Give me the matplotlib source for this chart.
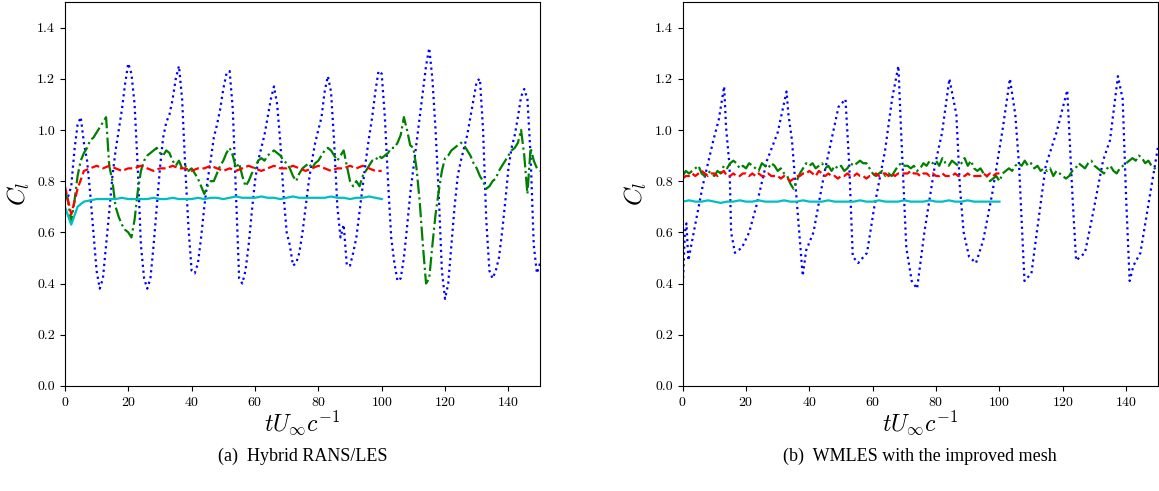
import numpy as np
import matplotlib
matplotlib.use("Agg")
import matplotlib.pyplot as plt

plt.rcParams["font.family"] = "serif"
plt.rcParams["font.serif"] = ["cmr10", "DejaVu Serif"]
plt.rcParams["mathtext.fontset"] = "cm"
plt.rcParams["axes.formatter.use_mathtext"] = True

# ----------------------------------------------------------------------
# (a) Hybrid RANS/LES
# ----------------------------------------------------------------------
a_blue = [
    0.76, 0.74, 0.78, 0.92, 1.02, 1.05, 0.95, 0.88, 0.75, 0.60,
    0.45, 0.38, 0.42, 0.55, 0.68, 0.82, 0.92, 1.00, 1.08, 1.18,
    1.26, 1.22, 1.10, 0.85, 0.55, 0.42, 0.38, 0.42, 0.55, 0.70,
    0.85, 0.97, 1.03, 1.06, 1.12, 1.20, 1.25, 1.12, 0.85, 0.62,
    0.45, 0.44, 0.48, 0.58, 0.70, 0.80, 0.88, 0.97, 1.02, 1.08,
    1.16, 1.22, 1.23, 1.08, 0.75, 0.42, 0.40, 0.45, 0.55, 0.68,
    0.80, 0.88, 0.93, 0.98, 1.05, 1.12, 1.17, 1.10, 0.95, 0.75,
    0.60, 0.55, 0.47, 0.48, 0.52, 0.60, 0.70, 0.80, 0.88, 0.95,
    1.00, 1.05, 1.15, 1.21, 1.15, 0.95, 0.70, 0.58, 0.63, 0.47,
    0.47, 0.52, 0.58, 0.68, 0.78, 0.88, 0.97, 1.05, 1.15, 1.23,
    1.22, 1.05, 0.80, 0.58, 0.48, 0.41, 0.42, 0.50, 0.62, 0.75,
    0.85, 0.95, 1.05, 1.15, 1.25, 1.32, 1.20, 1.00, 0.75, 0.45,
    0.34, 0.40, 0.55, 0.70, 0.82, 0.88, 0.93, 0.98, 1.05, 1.12,
    1.19, 1.20, 1.00, 0.65, 0.45, 0.42, 0.45, 0.50, 0.60, 0.72,
    0.85, 0.93, 0.98, 1.05, 1.13, 1.16, 1.12, 0.90, 0.55, 0.44,
    0.48,
]
a_green = [
    0.76, 0.72, 0.64, 0.72, 0.82, 0.88, 0.91, 0.93, 0.96, 0.97,
    0.99, 1.01, 1.03, 1.05, 0.86, 0.80, 0.70, 0.66, 0.63, 0.61,
    0.60, 0.58, 0.65, 0.76, 0.84, 0.88, 0.90, 0.91, 0.92, 0.93,
    0.91, 0.90, 0.92, 0.91, 0.88, 0.86, 0.88, 0.85, 0.86, 0.84,
    0.85, 0.83, 0.81, 0.78, 0.75, 0.78, 0.80, 0.80, 0.83, 0.86,
    0.88, 0.91, 0.93, 0.90, 0.85, 0.87, 0.82, 0.78, 0.80, 0.83,
    0.85, 0.88, 0.89, 0.88, 0.90, 0.91, 0.92, 0.91, 0.90, 0.88,
    0.87, 0.85, 0.82, 0.80, 0.83, 0.85, 0.86, 0.87, 0.85, 0.87,
    0.88, 0.90, 0.92, 0.93, 0.92, 0.90, 0.88, 0.90, 0.92, 0.86,
    0.80, 0.78, 0.80, 0.78, 0.82, 0.84, 0.86, 0.88, 0.88, 0.90,
    0.89, 0.90, 0.91, 0.93, 0.93, 0.95, 0.98, 1.05, 1.00, 0.94,
    0.93, 0.85, 0.72, 0.55, 0.40, 0.42, 0.55, 0.67, 0.76, 0.84,
    0.89, 0.90, 0.92, 0.93, 0.94, 0.95, 0.94, 0.92, 0.90, 0.87,
    0.85, 0.82, 0.80, 0.77, 0.78, 0.80, 0.81, 0.84, 0.86, 0.88,
    0.90, 0.92, 0.93, 0.95, 1.00, 0.90, 0.75, 0.93, 0.88, 0.85,
    0.84,
]
a_red = [
    0.78, 0.67, 0.77, 0.84, 0.85, 0.86, 0.85, 0.86, 0.85, 0.84,
    0.85, 0.85, 0.86, 0.85, 0.84, 0.85, 0.85, 0.86, 0.85, 0.85,
    0.84, 0.85, 0.85, 0.86, 0.85, 0.84, 0.85, 0.84, 0.85, 0.86,
    0.85, 0.84, 0.85, 0.86, 0.85, 0.85, 0.86, 0.85, 0.84, 0.85,
    0.86, 0.85, 0.84, 0.85, 0.85, 0.86, 0.85, 0.86, 0.85, 0.84,
    0.84,
]
a_cyan = [
    0.70, 0.63, 0.70, 0.72, 0.725, 0.73, 0.73, 0.73, 0.73, 0.735,
    0.73, 0.73, 0.73, 0.73, 0.735, 0.73, 0.73, 0.735, 0.73, 0.73,
    0.73, 0.735, 0.73, 0.735, 0.735, 0.73, 0.735, 0.74, 0.735, 0.735,
    0.735, 0.74, 0.735, 0.735, 0.73, 0.735, 0.74, 0.735, 0.735, 0.735,
    0.735, 0.735, 0.74, 0.735, 0.735, 0.73, 0.735, 0.735, 0.74, 0.735,
    0.73,
]

# ----------------------------------------------------------------------
# (b) WMLES with the improved mesh
# ----------------------------------------------------------------------
b_blue_t = [
    0, 0.7, 1.2, 1.8, 3.5, 6.3, 9.7, 11.4, 13.1, 13.7, 14.8, 15.3, 16.5,
    18.7, 21, 23.2, 26.6, 30, 32.8, 33.4, 34.5, 36.8, 37.9, 39, 41.3,
    44.7, 49.2, 51.4, 52.6, 53.7, 55.4, 58.2, 60.5, 63.9, 66.1, 68.1,
    68.9, 70.6, 72.3, 74, 76.3, 79.6, 81.9, 84.2, 86.4, 87.5, 88.7,
    90.4, 92.6, 94.9, 97.7, 101.1, 103.3, 105, 106.2, 107.9, 110.1,
    111.8, 114.6, 118, 121.4, 123.1, 124.2, 127, 129.3, 132.7, 134.9,
    137.4, 138.9, 140, 141.1, 142.3, 144.5, 147.3, 150,
]
b_blue = [
    0.375, 0.60, 0.635, 0.49, 0.60, 0.78, 0.96, 1.04, 1.17, 1.01, 0.86,
    0.60, 0.52, 0.54, 0.60, 0.70, 0.88, 0.99, 1.15, 1.06, 0.96, 0.60,
    0.43, 0.53, 0.60, 0.83, 1.09, 1.12, 0.86, 0.505, 0.48, 0.52, 0.70,
    0.92, 1.12, 1.25, 1.01, 0.54, 0.41, 0.38, 0.60, 0.86, 0.99, 1.20,
    1.06, 0.78, 0.60, 0.505, 0.48, 0.57, 0.75, 1.01, 1.20, 1.06, 0.86,
    0.41, 0.44, 0.60, 0.86, 0.99, 1.155, 0.73, 0.49, 0.52, 0.66, 0.88,
    0.96, 1.21, 1.12, 0.73, 0.41, 0.47, 0.52, 0.73, 0.93,
]
b_green = [
    0.82, 0.84, 0.83, 0.84, 0.85, 0.86, 0.83, 0.82, 0.84, 0.83,
    0.82, 0.84, 0.83, 0.86, 0.85, 0.87, 0.88, 0.87, 0.85, 0.86,
    0.85, 0.87, 0.86, 0.85, 0.84, 0.87, 0.86, 0.85, 0.87, 0.86,
    0.84, 0.85, 0.83, 0.82, 0.79, 0.77, 0.80, 0.83, 0.85, 0.87,
    0.86, 0.87, 0.85, 0.86, 0.87, 0.85, 0.86, 0.84, 0.86, 0.85,
    0.86, 0.84, 0.85, 0.87, 0.86, 0.87, 0.88, 0.87, 0.87, 0.85,
    0.83, 0.82, 0.83, 0.84, 0.82, 0.83, 0.82, 0.84, 0.86, 0.87,
    0.86, 0.86, 0.85, 0.86, 0.84, 0.85, 0.87, 0.86, 0.88, 0.87,
    0.88, 0.86, 0.89, 0.87, 0.86, 0.88, 0.87, 0.86, 0.87, 0.89,
    0.86, 0.88, 0.85, 0.84, 0.85, 0.83, 0.82, 0.80, 0.81, 0.82,
    0.80, 0.83, 0.84, 0.85, 0.84, 0.86, 0.87, 0.86, 0.88, 0.86,
    0.87, 0.85, 0.86, 0.84, 0.85, 0.84, 0.85, 0.82, 0.84, 0.83,
    0.82, 0.81, 0.82, 0.84, 0.85, 0.87, 0.86, 0.85, 0.87, 0.88,
    0.86, 0.85, 0.84, 0.83, 0.85, 0.86, 0.84, 0.83, 0.85, 0.86,
    0.87, 0.88, 0.89, 0.88, 0.90, 0.89, 0.87, 0.88, 0.86, 0.85,
    0.84,
]
b_red = [
    0.81, 0.82, 0.82, 0.83, 0.82, 0.83, 0.84, 0.83, 0.82, 0.83,
    0.83, 0.82, 0.83, 0.84, 0.82, 0.82, 0.83, 0.82, 0.82, 0.83,
    0.83, 0.82, 0.83, 0.82, 0.83, 0.82, 0.82, 0.83, 0.82, 0.82,
    0.82, 0.81, 0.82, 0.81, 0.80, 0.81, 0.82, 0.82, 0.83, 0.83,
    0.84, 0.83, 0.82, 0.84, 0.83, 0.82, 0.83, 0.82, 0.82, 0.81,
    0.82, 0.82, 0.83, 0.82, 0.82, 0.83, 0.82, 0.82, 0.81, 0.82,
    0.82, 0.83, 0.82, 0.83, 0.83, 0.82, 0.83, 0.82, 0.83, 0.83,
    0.83, 0.83, 0.84, 0.83, 0.83, 0.82, 0.83, 0.83, 0.82, 0.83,
    0.82, 0.82, 0.83, 0.82, 0.82, 0.82, 0.83, 0.82, 0.82, 0.82,
    0.83, 0.82, 0.82, 0.82, 0.82, 0.83, 0.82, 0.83, 0.82, 0.83,
    0.83,
]
b_cyan = [
    0.72, 0.725, 0.72, 0.72, 0.725, 0.72, 0.715, 0.72, 0.72, 0.725,
    0.72, 0.72, 0.725, 0.72, 0.72, 0.72, 0.725, 0.72, 0.72, 0.725,
    0.72, 0.72, 0.72, 0.725, 0.72, 0.72, 0.72, 0.72, 0.725, 0.72,
    0.72, 0.725, 0.72, 0.72, 0.72, 0.725, 0.72, 0.72, 0.72, 0.725,
    0.72, 0.72, 0.725, 0.72, 0.72, 0.725, 0.72, 0.72, 0.72, 0.72,
    0.72,
]

XTICKS = [0, 20, 40, 60, 80, 100, 120, 140]
YTICKS = [0.0, 0.2, 0.4, 0.6, 0.8, 1.0, 1.2, 1.4]
CAPTIONS = ["(a)  Hybrid RANS/LES", "(b)  WMLES with the improved mesh"]


def span(vals, t_end):
    return np.linspace(0, t_end, len(vals))


fig = plt.figure(figsize=(11.59, 4.91), dpi=100)
ax_a = fig.add_axes([0.056, 0.214, 0.410, 0.782])
ax_b = fig.add_axes([0.589, 0.214, 0.410, 0.782])

lw = 1.6
ax_a.plot(span(a_blue, 150), a_blue, color="b", ls=":", lw=lw)
ax_a.plot(span(a_green, 150), a_green, color="g", ls="-.", lw=lw)
ax_a.plot(span(a_red, 100), a_red, color="r", ls="--", lw=lw)
ax_a.plot(span(a_cyan, 100), a_cyan, color="c", ls="-", lw=lw)

ax_b.plot(b_blue_t, b_blue, color="b", ls=":", lw=lw)
ax_b.plot(span(b_green, 150), b_green, color="g", ls="-.", lw=lw)
ax_b.plot(span(b_red, 100), b_red, color="r", ls="--", lw=lw)
ax_b.plot(span(b_cyan, 100), b_cyan, color="c", ls="-", lw=lw)

for ax, cap in zip([ax_a, ax_b], CAPTIONS):
    ax.set_xlim(0, 150)
    ax.set_ylim(0, 1.5)
    ax.set_xticks(XTICKS)
    ax.set_yticks(YTICKS)
    ax.set_yticklabels([f"{v:.1f}" for v in YTICKS])
    ax.tick_params(labelsize=10, length=3.5)
    ax.set_ylabel(r"$C_l$", fontsize=18, labelpad=4)
    ax.set_xlabel(r"$tU_\infty c^{-1}$", fontsize=17, labelpad=0)
    pos = ax.get_position()
    fig.text(pos.x0 + pos.width / 2, 0.07, cap, ha="center", va="center",
             fontsize=13, family="Liberation Serif")

fig.savefig("out.png", dpi=100)
